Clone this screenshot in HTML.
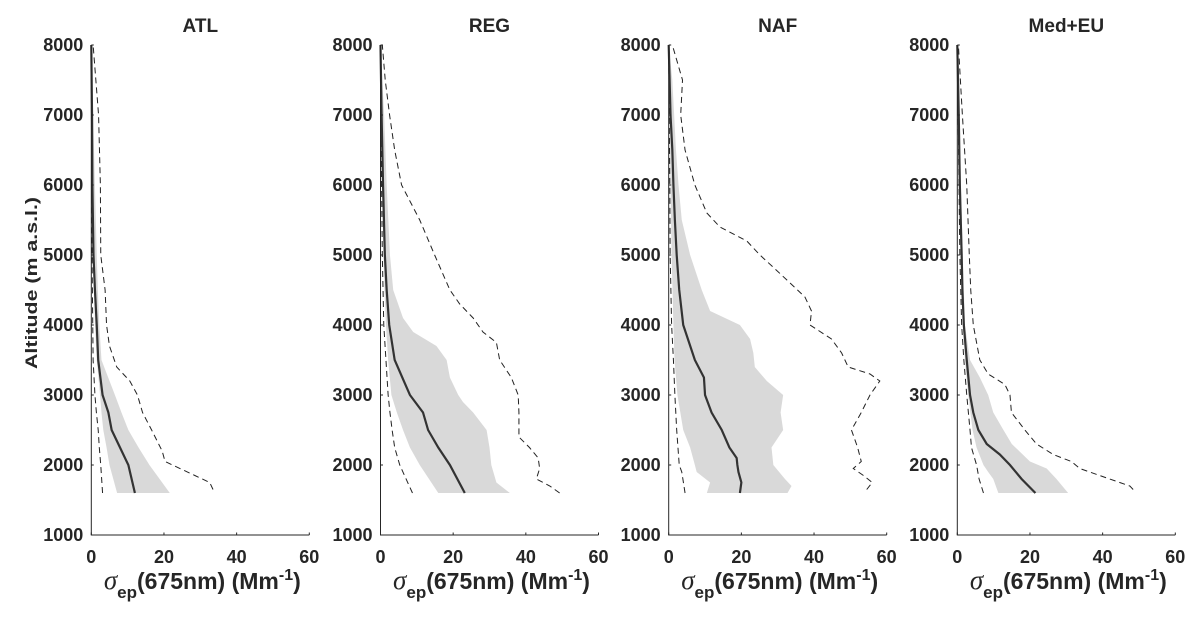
<!DOCTYPE html>
<html><head><meta charset="utf-8"><style>
body{margin:0;background:#fff;}
svg text{font-family:"Liberation Sans",Arial,sans-serif;font-weight:bold;fill:#262626;}
</style></head><body>
<svg id="chart" width="1204" height="620" xmlns="http://www.w3.org/2000/svg"></svg>
<script>
// Panels (site categories)
const panels = ["ATL","REG","NAF","Med+EU"];
const yTicks = [1000,2000,3000,4000,5000,6000,7000,8000];
const xTicks = [0,20,40,60];
const stdAlt = [1600,2000,2250,2500,2750,3000,3500,4000,4500,5000,6000,7000,8000];

// ATL
const atlMedian = [12,10.2,7.9,5.6,4.7,3.1,1.9,1.5,1.0,0.6,0.3,0.2,0];
const atlP75 = [21.6,16,13,10.2,8.3,6.5,2.8,2.2,1.8,1.5,1,0.5,0];
const atlP25 = [7.1,5,4.2,3.3,2.8,2.4,1.5,1,0.7,0.5,0.2,0.1,0];
const atlP5 = [3.1,2.6,2.2,1.9,1.4,1,0.5,0.4,0.3,0.2,0.1,0.05,0];
const atlP95Alt = [1650,1750,1850,2050,2200,2500,2750,3000,3200,3400,3700,4000,4500,5000,6000,7000,8000];
const atlP95 = [33.5,32.6,28.5,20.3,19.5,16.6,14.1,12.7,10.6,7,5,4.2,3.8,2.6,2.5,2,0.5];

// REG
const regMedian = [23.2,19.1,15.9,13.1,11.7,8.1,3.9,2.4,1.7,1.2,0.7,0.3,0];
const regP75Alt = [1600,1750,2000,2250,2500,2750,2900,3000,3250,3500,3700,3900,4100,4500,5000,6000,7000,8000];
const regP75 = [35.6,31.9,30.5,30,29.2,25.5,22.7,21.4,19.1,18.2,15.4,9,6.2,3.5,2.6,1.7,1,0];
const regP25 = [15.9,10.8,8.1,6.2,4.5,3,2.1,1.5,1.1,0.8,0.4,0.2,0];
const regP5 = [8.8,5.3,3.9,3.2,2.6,2.1,1.5,0.9,0.7,0.5,0.3,0.1,0];
const regP95Alt = [1600,1700,1800,1950,2100,2250,2400,2750,3000,3250,3500,3750,3900,4100,4300,4500,5000,5500,6000,6500,7000,7500,8000];
const regP95 = [49.3,46.6,42.9,43.8,43.4,41,38.1,38.1,37.9,36,32.8,31.9,28.2,25.5,21.8,19.1,14.9,10.8,5.8,3.9,2.5,1.3,0.5];

// NAF
const nafMedAlt = [1600,1750,1900,2000,2100,2250,2500,2750,3000,3250,3500,4000,4500,5000,5500,6000,6500,7000,8000];
const nafMedian = [19.6,20,19.2,18.9,18.7,16.7,14.6,11.8,10,9.7,7.2,4,2.9,2.2,1.7,1.3,1,0.5,0];
const nafP75Alt = [1600,1700,1800,2000,2250,2500,2750,3000,3200,3400,3600,3800,4000,4200,4500,5000,5500,6000,6500,7000,7500,8000];
const nafP75 = [32.7,33.8,32,28.8,28.3,31.5,30.8,31.5,27,23.7,23.3,22.4,19.6,11.4,9.1,5.9,3.6,2.7,2,1.5,1,0];
const nafP25Alt = [1600,1750,1900,2000,2250,2500,3000,3500,4000,5000,6000,8000];
const nafP25 = [10.5,11.4,7.7,7.2,5.9,4,2.4,1.6,1.3,0.8,0.5,0];
const nafP5Alt = [1600,1900,2000,2500,3000,3500,4000,5000,6000,8000];
const nafP5 = [4.5,3.6,2.9,2.2,1.7,1.3,0.8,0.4,0.3,0];
const nafP95Alt = [1650,1750,1850,1950,2050,2250,2500,2750,3000,3200,3300,3400,3600,3800,4000,4200,4400,4600,4800,5000,5200,5400,5600,6000,6500,7000,7500,8000];
const nafP95 = [54.5,56,53.6,50.8,53,52,50.3,53,55.4,58.1,55.4,49.4,47.6,44.8,38.9,39.3,37.5,33.4,29.3,25.1,21.5,14.1,10.5,7.2,4.5,3.3,3.8,1];

// Med+EU
const medMedAlt = [1600,1800,2000,2150,2300,2500,2750,3000,3500,4000,4500,5000,6000,7000,8000];
const medMedian = [21.5,17.7,14.5,11.7,8.1,5.8,4.4,3.5,2.6,1.8,1.4,1.2,0.7,0.4,0];
const medP75Alt = [1600,1800,1950,2050,2300,2500,2750,3000,3250,3500,4000,5000,6000,7000,8000];
const medP75 = [30.5,27.3,24.6,20,15,12.7,9.9,8.5,6.2,3.5,2.1,1.5,1,0.5,0];
const medP25Alt = [1600,1800,1900,2000,2250,2500,3000,3500,4000,5000,6000,8000];
const medP25 = [11.3,9.9,8.5,7.2,5.3,4.2,3,2.1,1.5,0.9,0.5,0];
const medP5Alt = [1600,1800,2000,2250,2500,3000,3500,4000,5000,8000];
const medP5 = [7.2,6,5.3,3.9,3.5,2.6,1.8,1.2,0.7,0];
const medP95Alt = [1650,1700,1750,1850,1950,2050,2150,2300,2500,2750,3000,3150,3300,3500,3750,4000,4500,5000,6000,7000,8000];
const medP95 = [48.4,47.5,44.7,39.2,33.7,31.4,26.4,21.8,18.6,14.9,14.5,13.1,8.5,6.2,5.3,4.4,3.7,3.3,2.6,1.4,0.3];

const series = [
  {med:[stdAlt,atlMedian],p75:[stdAlt,atlP75],p25:[stdAlt,atlP25],p5:[stdAlt,atlP5],p95:[atlP95Alt,atlP95]},
  {med:[stdAlt,regMedian],p75:[regP75Alt,regP75],p25:[stdAlt,regP25],p5:[stdAlt,regP5],p95:[regP95Alt,regP95]},
  {med:[nafMedAlt,nafMedian],p75:[nafP75Alt,nafP75],p25:[nafP25Alt,nafP25],p5:[nafP5Alt,nafP5],p95:[nafP95Alt,nafP95]},
  {med:[medMedAlt,medMedian],p75:[medP75Alt,medP75],p25:[medP25Alt,medP25],p5:[medP5Alt,medP5],p95:[medP95Alt,medP95]}
];

const NS="http://www.w3.org/2000/svg";
const svg=document.getElementById('chart');
const x0s=[91.3,380.5,668.7,957.3];
const W=218, yTop=45, yBot=535;
function mk(tag,attrs,parent){const e=document.createElementNS(NS,tag);for(const k in attrs)e.setAttribute(k,attrs[k]);(parent||svg).appendChild(e);return e;}
const yS=a=>yBot-(a-1000)/7000*(yBot-yTop);

panels.forEach((name,i)=>{
  const x0=x0s[i];
  const xS=v=>x0+v/60*W;
  const g=mk('g',{});
  
  
  const s=series[i];
  let pts=[];
  s.p75[0].forEach((a,k)=>pts.push(xS(s.p75[1][k])+','+yS(a)));
  for(let k=s.p25[0].length-1;k>=0;k--)pts.push(xS(s.p25[1][k])+','+yS(s.p25[0][k]));
  const band=mk('polygon',{points:pts.join(' '),fill:'#d9d9d9',stroke:'none'},g);
  
  
  const line=(arr,attrs,nm)=>{
    const p=arr[0].map((a,k)=>xS(arr[1][k])+','+yS(a)).join(' ');
    const l=mk('polyline',Object.assign({points:p,fill:'none'},attrs),g);
    
    
  };
  line(s.p5,{stroke:'#222','stroke-width':1,'stroke-dasharray':'6,4'},'percentile-5-line');
  line(s.p95,{stroke:'#222','stroke-width':1,'stroke-dasharray':'6,4'},'percentile-95-line');
  line(s.med,{stroke:'#333','stroke-width':2.2},'median-line');
  const ax=mk('path',{d:`M${x0},${yTop} V${yBot} H${x0+W}`,stroke:'#262626','stroke-width':1,fill:'none'},g);
  
  
  yTicks.forEach(t=>{
    mk('line',{x1:x0,x2:x0+2.5,y1:yS(t),y2:yS(t),stroke:'#262626'},g);
    const tx=mk('text',{x:x0-8,y:yS(t)+6,'text-anchor':'end','font-size':18},g);
    tx.textContent=t;
    
    
  });
  xTicks.forEach(t=>{
    mk('line',{x1:xS(t),x2:xS(t),y1:yBot,y2:yBot-2.5,stroke:'#262626'},g);
    const tx=mk('text',{x:xS(t),y:563,'text-anchor':'middle','font-size':18},g);
    tx.textContent=t;
    
    
  });
  const ti=mk('text',{x:x0+W/2,y:32,'text-anchor':'middle','font-size':19},g);
  ti.textContent=name;
  
  
  const xl=mk('text',{x:x0+W/2+2,y:589,'text-anchor':'middle','font-size':23},g);
  
  
  xl.innerHTML='<tspan style="font-family:\'Liberation Serif\',serif;font-style:italic;font-weight:normal" font-size="27">σ</tspan><tspan font-size="17" dy="9">ep</tspan><tspan dy="-9">(675nm) (Mm</tspan><tspan font-size="16" dy="-9">-1</tspan><tspan dy="9">)</tspan>';
});
const yl=mk('text',{x:0,y:0,'text-anchor':'middle','font-size':17,textLength:172,lengthAdjust:'spacingAndGlyphs',transform:'translate(37,283) rotate(-90)'});
yl.textContent='Altitude (m a.s.l.)';


</script>
</body></html>
